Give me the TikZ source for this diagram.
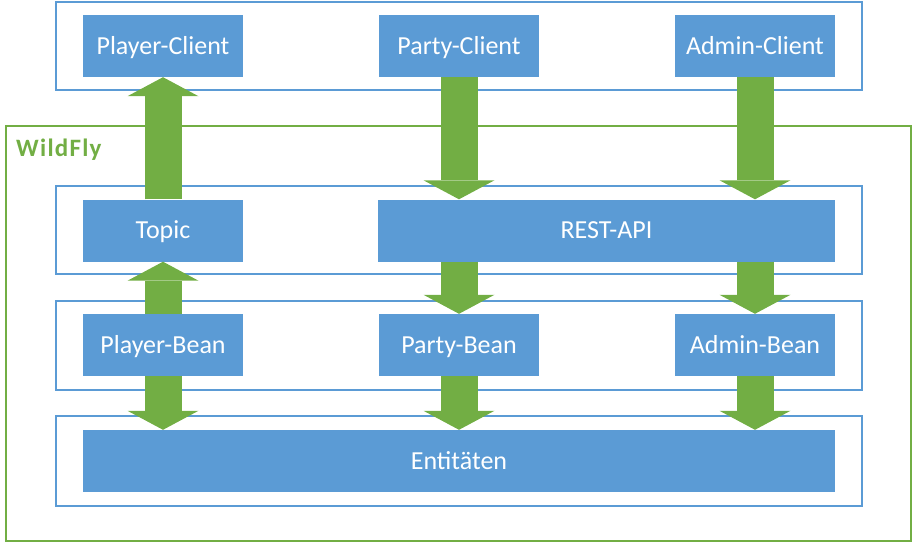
\documentclass[tikz,border=0pt]{standalone}
\usepackage{fontspec}
\setmainfont{Carlito}
\usepackage{tikz}
\usetikzlibrary{shapes,decorations}
\usetikzlibrary{arrows.meta, positioning}
\definecolor{layerblue}{RGB}{91,155,213}
\definecolor{flygreen}{RGB}{114,174,68}
\tikzset{
  layer/.style={draw=layerblue, line width=1.8pt},
  comp/.style={fill=layerblue, text=white, inner sep=0pt, minimum width=160pt, minimum height=62pt, text height=16.5pt, text depth=0pt, font=\fontsize{26}{30}\selectfont},
  flow/.style={draw=flygreen, line width=37pt, -{Triangle[width=71pt, length=19pt, line width=0pt]}}
}

\begin{document}
\begin{tikzpicture}[x=1pt, y=-1pt]
\useasboundingbox (0,0) rectangle (914,543);
% Clients layer and WildFly container
\draw[layer] (56, 2) rectangle (862, 90);
\draw[flygreen, line width=2.6pt] (6, 126) rectangle (911, 541);
\node[anchor=base west, inner sep=0pt, text=flygreen, font=\fontsize{25}{30}\selectfont\bfseries\addfontfeature{LetterSpace=5}] (wildfly) at (16, 156) {WildFly};
% Layers inside WildFly
\draw[layer] (56, 186) rectangle (862, 274);
\draw[layer] (56, 301) rectangle (862, 390);
\draw[layer] (56, 416) rectangle (862, 506);

\node[comp] (pclient) at (163, 46) {Player-Client};
\node[comp] (paclient) at (459, 46) {Party-Client};
\node[comp] (aclient) at (755, 46) {Admin-Client};

\node[comp] (topic) at (163, 230.5) {Topic};
\node[comp, minimum width=457pt] (rest) at (606.5, 230.5) {REST-API};

\node[comp] (pbean) at (163, 345) {Player-Bean};
\node[comp] (pabean) at (459, 345) {Party-Bean};
\node[comp] (abean) at (755, 345) {Admin-Bean};

\node[comp, minimum width=752pt] (ent) at (459, 461) {Entitäten};

% Block arrows between the components
\draw[flow] (topic.north) -- (pclient.south);
\draw[flow] (pbean.north) -- (topic.south);
\draw[flow] (paclient.south) -- (paclient.south |- rest.north);
\draw[flow] (aclient.south) -- (aclient.south |- rest.north);
\draw[flow] (rest.south -| pabean.north) -- (pabean.north);
\draw[flow] (rest.south -| abean.north) -- (abean.north);
\draw[flow] (pbean.south) -- (pbean.south |- ent.north);
\draw[flow] (pabean.south) -- (pabean.south |- ent.north);
\draw[flow] (abean.south) -- (abean.south |- ent.north);

\end{tikzpicture}
\end{document}
